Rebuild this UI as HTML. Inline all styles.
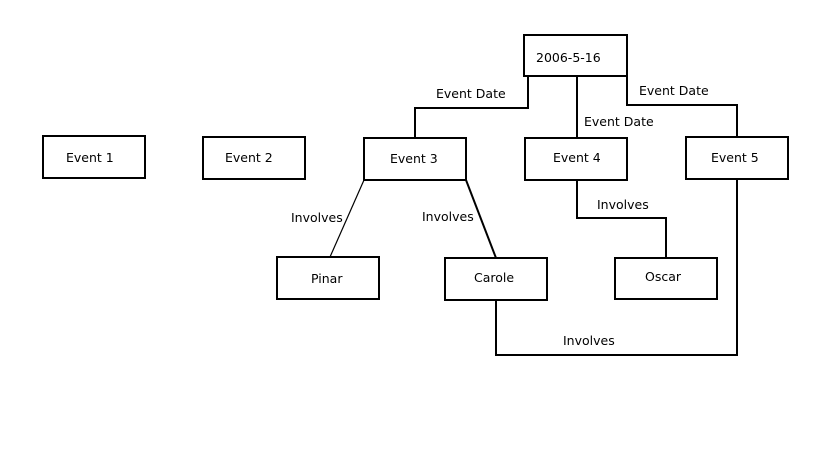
<!DOCTYPE html>
<html><head><style>
body{margin:0;background:#fff;}
svg text{font-family:"DejaVu Sans",sans-serif;font-size:12.5px;fill:#000;}
</style></head><body>
<svg width="819" height="460" xmlns="http://www.w3.org/2000/svg">
<g fill="#fff" stroke="#000" stroke-width="2">
<rect x="524" y="35" width="103" height="41"/>
<rect x="43" y="136" width="102" height="42"/>
<rect x="203" y="137" width="102" height="42"/>
<rect x="364" y="138" width="102" height="42"/>
<rect x="525" y="138" width="102" height="42"/>
<rect x="686" y="137" width="102" height="42"/>
<rect x="277" y="257" width="102" height="42"/>
<rect x="445" y="258" width="102" height="42"/>
<rect x="615" y="258" width="102" height="41"/>
</g>
<g fill="none" stroke="#000" stroke-width="2">
<polyline points="528,76 528,108 415,108 415,138"/>
<polyline points="577,76 577,138"/>
<polyline points="627,76 627,105 737,105 737,137"/>
<line x1="364" y1="180" x2="330" y2="257" stroke-width="1.2"/>
<line x1="466" y1="180" x2="496" y2="258"/>
<polyline points="577,180 577,218 666,218 666,258"/>
<polyline points="496,300 496,355 737,355 737,179"/>
</g>
<text x="536" y="62">2006-5-16</text>
<text x="66" y="162">Event 1</text>
<text x="225" y="162">Event 2</text>
<text x="390" y="163">Event 3</text>
<text x="553" y="162">Event 4</text>
<text x="711" y="162">Event 5</text>
<text x="311" y="283">Pinar</text>
<text x="474" y="282">Carole</text>
<text x="645" y="281">Oscar</text>
<text x="436" y="98">Event Date</text>
<text x="584" y="126">Event Date</text>
<text x="639" y="95">Event Date</text>
<text x="291" y="222">Involves</text>
<text x="422" y="221">Involves</text>
<text x="597" y="209">Involves</text>
<text x="563" y="345">Involves</text>
</svg>
</body></html>
